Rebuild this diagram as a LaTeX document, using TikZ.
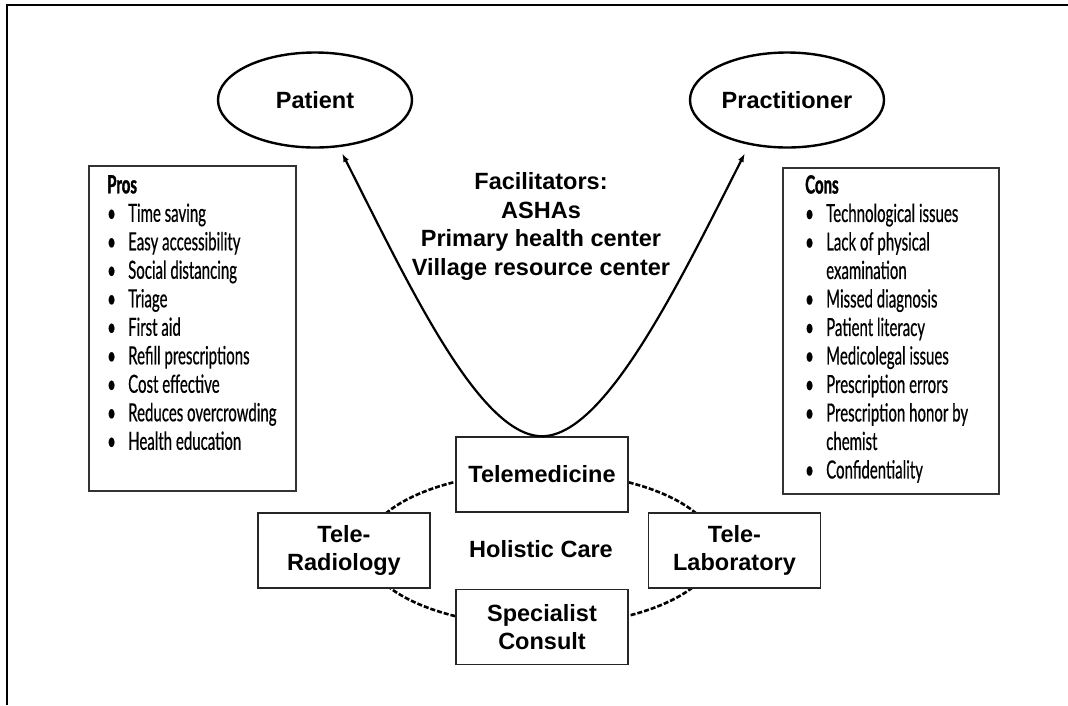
\documentclass[tikz,border=0pt]{standalone}
\usepackage{fontspec}
\setmainfont{Liberation Sans}
\newfontfamily\condfont[FakeStretch=0.6, FakeBold=0.5]{Lato}
\newfontfamily\condhead[FakeStretch=0.6, FakeBold=1.5]{Lato}
\usetikzlibrary{shapes.geometric,arrows.meta}
\newcommand\myitem[1]{\makebox[21pt][l]{\textbullet}#1}
\newcommand\mycont[1]{\makebox[21pt][l]{}#1}
\begin{document}
\begin{tikzpicture}[x=1pt,y=1pt,
  lbl/.style={font=\fontsize{23.5}{28}\selectfont\bfseries, align=center},
  oval/.style={ellipse, draw, line width=2.4pt, minimum width=194pt, minimum height=95pt, inner sep=0pt, lbl},
  tbox/.style={rectangle, draw=black!85, line width=1.6pt, fill=white, minimum width=172pt, minimum height=75pt, inner sep=0pt, lbl},
  listbox/.style={rectangle, draw=black!80, line width=1.5pt, inner sep=0pt, anchor=north west},
  listtext/.style={anchor=north west, inner sep=0pt, align=left, font=\condfont\fontsize{25}{28.5}\selectfont},
  link/.style={line width=2.2pt, -{Latex[length=9pt,width=6pt]}},
  ring/.style={ellipse, draw=black, line width=2.6pt, dash pattern=on 5pt off 2pt, minimum width=350pt, minimum height=154pt, inner sep=0pt, lbl}
]
\useasboundingbox (0,0) rectangle (1068,-705);
\draw[line width=1.5pt] (7,-705) -- (7,-5) -- (1068,-5);

\node[oval] (pat) at (315,-100) {Patient};
\node[oval] (prac) at (787,-100) {Practitioner};

\node[lbl, anchor=north, font=\fontsize{23.5}{28.5}\selectfont\bfseries] (fac) at (541,-169)
  {Facilitators:\\ASHAs\\Primary health center\\Village resource center};

\node[listbox, minimum width=207pt, minimum height=325pt] (prosbox) at (88,-165) {};
\node[listtext] (prostext) at (107,-175) {{\condhead\bfseries Pros}\\
\myitem{Time saving}\\
\myitem{Easy accessibility}\\
\myitem{Social distancing}\\
\myitem{Triage}\\
\myitem{First aid}\\
\myitem{Refill prescriptions}\\
\myitem{Cost effective}\\
\myitem{Reduces overcrowding}\\
\myitem{Health education}};

\node[listbox, minimum width=216pt, minimum height=326pt] (consbox) at (782,-167) {};
\node[listtext] (constext) at (805,-175) {{\condhead\bfseries Cons}\\
\myitem{Technological issues}\\
\myitem{Lack of physical}\\
\mycont{examination}\\
\myitem{Missed diagnosis}\\
\myitem{Patient literacy}\\
\myitem{Medicolegal issues}\\
\myitem{Prescription errors}\\
\myitem{Prescription honor by}\\
\mycont{chemist}\\
\myitem{Confidentiality}};

\node[ring] (hol) at (541,-549) {Holistic Care};
\node[tbox] (tm) at (542,-474.5) {Telemedicine};
\node[tbox] (rad) at (344,-550.5) {Tele-\\Radiology};
\node[tbox] (lab) at (734.5,-550.5) {Tele-\\Laboratory};
\node[tbox] (spec) at (542,-627) {Specialist\\Consult};

\draw[link] (tm.north) .. controls +(-63,0) and +(66,-130) .. ([shift={(27,-53)}]pat.center);
\draw[link] (tm.north) .. controls +(63,0) and +(-66,-130) .. ([shift={(-42,-53)}]prac.center);
\end{tikzpicture}
\end{document}
